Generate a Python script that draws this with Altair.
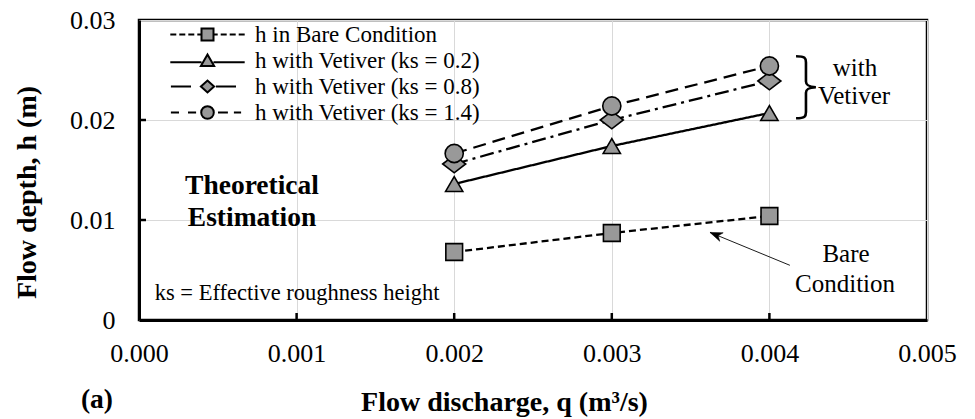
import altair as alt
import pandas as pd

# ---------------- data ----------------
q_values = [0.002, 0.003, 0.004]
h_bare = [0.0068, 0.0087, 0.0104]
h_ks02 = [0.0136, 0.0174, 0.0207]
h_ks08 = [0.0156, 0.0200, 0.0239]
h_ks14 = [0.01665, 0.0214, 0.0254]

series_names = [
    "h in Bare Condition",
    "h with Vetiver (ks = 0.2)",
    "h with Vetiver (ks = 0.8)",
    "h with Vetiver (ks = 1.4)",
]
x_ticks = [0.0, 0.001, 0.002, 0.003, 0.004, 0.005]
y_ticks = [0.0, 0.01, 0.02, 0.03]
x_inner_ticks = [0.001, 0.002, 0.003, 0.004]
y_inner_ticks = [0.01, 0.02]

rows = []
for name, vals in zip(series_names, [h_bare, h_ks02, h_ks08, h_ks14]):
    for q, h in zip(q_values, vals):
        rows.append({"series": name, "series_leg": name, "q": q, "h": h})
df = pd.DataFrame(rows)

# annotations (data coordinates)
bold_text = ["Theoretical", "Estimation", "(a)"]
bold_x = [0.000717, 0.000717, -0.000267]
bold_y = [0.01343, 0.01025, -0.00796]

note_text = ["with", "Vetiver", "Bare", "Condition"]
note_x = [0.004543, 0.004537, 0.004486, 0.00448]
note_y = [0.02517, 0.02239, 0.00657, 0.00358]

ks_text = ["ks = Effective roughness height"]
ks_x = [0.001003]
ks_y = [0.00269]

brace_x = [0.004232]
brace_y = [0.02328]

arrow_x = [0.00413]
arrow_y = [0.00547]
arrow_x2 = [0.003623]
arrow_y2 = [0.00876]

FONT = "Liberation Serif"
GRAY = "#999999"

# ---------------- scales ----------------
x_scale = alt.Scale(domain=[0, 0.005], nice=False)
y_scale = alt.Scale(domain=[0, 0.03], nice=False)

x_enc = alt.X(
    "q:Q",
    scale=x_scale,
    axis=alt.Axis(
        values=x_ticks, format=".3f", title="Flow discharge, q (m³/s)",
        ticks=False, labelPadding=20, labelFontSize=26, labelFont=FONT,
        labelFlush=False, labelOverlap=False,
        labelColor="black", titleFont=FONT, titleFontSize=28, titleFontWeight="bold",
        titleColor="black", titleX=365, titleY=82, titleBaseline="middle",
        domainColor="black", domainWidth=3, gridColor="#d9d9d9", gridWidth=1,
    ),
)
y_enc = alt.Y(
    "h:Q",
    scale=y_scale,
    axis=alt.Axis(
        values=y_ticks, title="Flow depth, h (m)",
        labelExpr="datum.value == 0 ? '0' : format(datum.value, '.2f')",
        ticks=False, labelPadding=24, labelFontSize=26, labelFont=FONT,
        labelFlush=False, labelOverlap=False,
        labelColor="black", titleFont=FONT, titleFontSize=28, titleFontWeight="bold",
        titleColor="black", titleX=-112, titleY=172, titleAngle=270,
        titleBaseline="middle", titleAlign="center",
        domainColor="black", domainWidth=3, gridColor="#d9d9d9", gridWidth=1,
    ),
)

base = alt.Chart(df)

lines = base.mark_line(color="black", strokeWidth=2.3).encode(
    x=x_enc,
    y=y_enc,
    detail="series:N",
    strokeDash=alt.StrokeDash(
        "series:N",
        scale=alt.Scale(domain=series_names,
                        range=[[7, 4], [1, 0], [14, 5, 3, 5], [13, 7]]),
        legend=None,
    ),
)

# inward tick marks at the axis values
xt_df = pd.DataFrame({"v": x_inner_ticks, "zero": [0.0] * len(x_inner_ticks)})
yt_df = pd.DataFrame({"v": y_inner_ticks, "zero": [0.0] * len(y_inner_ticks)})
x_tick_marks = alt.Chart(xt_df).mark_tick(
    orient="vertical", color="black", size=7, thickness=2.5, yOffset=-3.5,
    opacity=1).encode(
    x=alt.X("v:Q", scale=x_scale), y=alt.Y("zero:Q", scale=y_scale))
y_tick_marks = alt.Chart(yt_df).mark_tick(
    orient="horizontal", color="black", size=7, thickness=2.5, xOffset=3.5,
    opacity=1).encode(
    y=alt.Y("v:Q", scale=y_scale), x=alt.X("zero:Q", scale=x_scale))

diamond_path = "M-1.3,0L0,-1L1.3,0L0,1Z"
points = base.mark_point(filled=True, fill=GRAY, stroke="black", strokeWidth=1.6,
                         opacity=1).encode(
    x="q:Q",
    y="h:Q",
    shape=alt.Shape("series:N",
                    scale=alt.Scale(domain=series_names,
                                    range=["square", "triangle-up", diamond_path, "circle"]),
                    legend=None),
    size=alt.Size("series:N",
                  scale=alt.Scale(domain=series_names, range=[280, 330, 240, 320]),
                  legend=None),
)

# legend symbols: line pattern + marker as one path
leg_bare = ("M-6.2,0H-5.2M-4.7,0H-3.7M-3.2,0H-2.2M-1.7,0H-1.0"
            "M1.0,0H1.7M2.2,0H3.2M3.7,0H4.7M5.2,0H6.2"
            "M-1,-1H1V1H-1Z")
leg_02 = "M-6.2,0.3H-1.0M1.0,0.3H6.2M0,-1L1.1,0.9L-1.1,0.9Z"
leg_08 = "M-6.1,0H-2.75M1.4,0H4.75M-1.1,0L0,-1L1.1,0L0,1Z"
leg_14 = ("M-6.1,0H-4.75M-3.25,0H-1.9M1.75,0H3.4M4.4,0H5.6"
          "M-1.05,0A1.05,1.05 0 1,0 1.05,0A1.05,1.05 0 1,0 -1.05,0Z")

legend_layer = base.transform_filter("datum.q < 0").mark_point(
    filled=False, fill=GRAY, stroke="black", color="black", strokeWidth=2,
    opacity=1, size=144).encode(
    x="q:Q",
    y="h:Q",
    shape=alt.Shape(
        "series_leg:N",
        scale=alt.Scale(domain=series_names, range=[leg_bare, leg_02, leg_08, leg_14]),
        legend=alt.Legend(
            title=None, orient="none", legendX=57, legendY=3,
            labelFont=FONT, labelFontSize=23, labelColor="black",
            labelOffset=36, rowPadding=2, padding=0,
            symbolOpacity=1, symbolStrokeWidth=2, symbolSize=144, labelLimit=400,
        ),
    ),
)

bold_df = pd.DataFrame({"t": bold_text, "x": bold_x, "y": bold_y})
note_df = pd.DataFrame({"t": note_text, "x": note_x, "y": note_y})
ks_df = pd.DataFrame({"t": ks_text, "x": ks_x, "y": ks_y})
brace_df = pd.DataFrame({"x": brace_x, "y": brace_y})
arrow_df = pd.DataFrame({"x": arrow_x, "y": arrow_y, "x2": arrow_x2, "y2": arrow_y2})

bold_layer = alt.Chart(bold_df).mark_text(font=FONT, fontSize=27.5, fontWeight="bold",
                                          color="black", baseline="middle").encode(
    x="x:Q", y="y:Q", text="t:N")
note_layer = alt.Chart(note_df).mark_text(font=FONT, fontSize=25, color="black",
                                          baseline="middle").encode(
    x="x:Q", y="y:Q", text="t:N")
ks_layer = alt.Chart(ks_df).mark_text(font=FONT, fontSize=22.5, color="black",
                                      baseline="middle").encode(
    x="x:Q", y="y:Q", text="t:N")
brace_path = ("M-0.32,-1C-0.02,-1 0,-0.94 0,-0.8L0,-0.18C0,-0.06 0.08,-0.01 0.32,0"
              "C0.08,0.01 0,0.06 0,0.18L0,0.8C0,0.94 -0.02,1 -0.32,1")
brace_layer = alt.Chart(brace_df).mark_point(
    shape=brace_path, filled=False, stroke="black", strokeWidth=2.6,
    size=3844, opacity=1).encode(x="x:Q", y="y:Q")
arrow_line = alt.Chart(arrow_df).mark_rule(color="black", strokeWidth=0.9).encode(
    x="x:Q", y="y:Q", x2="x2:Q", y2="y2:Q")
arrow_head = alt.Chart(arrow_df).mark_point(
    shape="M0,0L0.7,1.9L0,1.35L-0.7,1.9Z", filled=True, fill="black", stroke="black",
    strokeWidth=0.5, size=170, angle=292, opacity=1).encode(x="x2:Q", y="y2:Q")

chart = alt.layer(
    lines, x_tick_marks, y_tick_marks, points, legend_layer, arrow_line, arrow_head,
    bold_layer, note_layer, ks_layer, brace_layer,
).resolve_scale(shape="independent", size="independent").properties(
    width=788, height=300,
    autosize=alt.AutoSizeParams(type="none"),
    padding={"left": 139, "top": 20, "right": 48, "bottom": 99},
    background="white",
).configure_view(stroke="black", strokeWidth=2.5)

chart.save("out.html", embed_options={"renderer": "svg", "actions": False})
